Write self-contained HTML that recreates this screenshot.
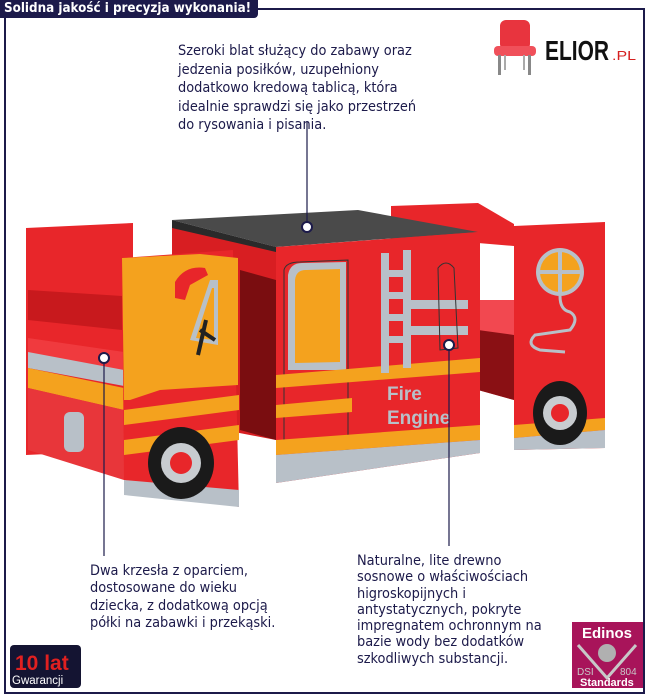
<!DOCTYPE html>
<html><head><meta charset="utf-8"><style>
body{margin:0;width:650px;height:700px;background:#fff;position:relative;overflow:hidden;font-family:"DejaVu Sans Condensed","DejaVu Sans","Liberation Sans",sans-serif;}
.frame{position:absolute;left:4px;top:8px;width:637px;height:682px;border:2px solid #1c1a4a;}
.banner{position:absolute;left:0;top:0;width:258px;height:18px;background:#1c1a4a;color:#fff;font-weight:bold;font-size:13.3px;line-height:18px;padding-left:4px;box-sizing:border-box;border-radius:0 0 4px 0;font-family:"DejaVu Sans Condensed",sans-serif;}
.t{position:absolute;color:#1c1a4a;font-size:14.4px;font-family:"DejaVu Sans Condensed","DejaVu Sans",sans-serif;white-space:nowrap;}
</style></head><body>
<div class="frame"></div>
<div class="banner">Solidna jakość i precyzja wykonania!</div>
<div class="t" style="left:178px;top:42px;line-height:18.5px;">Szeroki blat służący do zabawy oraz<br>jedzenia posiłków, uzupełniony<br>dodatkowo kredową tablicą, która<br>idealnie sprawdzi się jako przestrzeń<br>do rysowania i pisania.</div>
<div class="t" style="left:90px;top:563px;line-height:17.3px;">Dwa krzesła z oparciem,<br>dostosowane do wieku<br>dziecka, z dodatkową opcją<br>półki na zabawki i przekąski.</div>
<div class="t" style="left:357px;top:553px;line-height:16.3px;">Naturalne, lite drewno<br>sosnowe o właściwościach<br>higroskopijnych i<br>antystatycznych, pokryte<br>impregnatem ochronnym na<br>bazie wody bez dodatków<br>szkodliwych substancji.</div>
<svg width="650" height="700" style="position:absolute;left:0;top:0">
<!-- logo -->
<g>
<rect x="500" y="20" width="30" height="30" rx="6" fill="#e8343e"/>
<rect x="494" y="46" width="42" height="10" rx="4" fill="#f0505a"/>
<rect x="498" y="55" width="3" height="20" fill="#888"/><rect x="528" y="55" width="3" height="20" fill="#888"/>
<rect x="504" y="55" width="2" height="15" fill="#aaa"/><rect x="523" y="55" width="2" height="15" fill="#aaa"/>
<text x="545" y="60" font-family="Liberation Sans Narrow,Liberation Sans,sans-serif" font-weight="bold" font-size="28" fill="#111" textLength="64" lengthAdjust="spacingAndGlyphs">ELIOR</text>
<text x="612" y="60" font-family="Liberation Sans,sans-serif" font-size="13" fill="#d62020" textLength="24" lengthAdjust="spacingAndGlyphs">.PL</text>
</g>
<!-- right chair back -->
<polygon points="391,206 478,203 514,224 514,246 478,243 391,246" fill="#e8262a"/>
<polygon points="478,300 514,300 514,400 478,390" fill="#f24850"/>
<polygon points="478,330 514,335 514,400 478,390" fill="#8a1014"/>
<!-- table -->
<polygon points="172,222 276,247 276,440 172,420" fill="#d81e22"/>
<polygon points="240,270 276,280 276,440 240,430" fill="#7a0d10"/>
<polygon points="172,220 358,210 478,232 276,247" fill="#4a4a4a"/>
<polygon points="172,220 276,247 276,252 172,228" fill="#2a2a2a"/>
<polygon points="276,247 480,232 480,453 276,483" fill="#e8262a"/>
<path d="M284,270 Q286,262 300,262 L348,260 L348,450 L284,457 Z" fill="none" stroke="#333" stroke-width="1"/>
<path d="M288,275 Q290,263 302,263 L346,262 L346,370 L288,370 Z" fill="#b8c0c8"/>
<path d="M295,280 Q296,270 306,270 L340,269 L340,362 L295,363 Z" fill="#f4a21e"/>
<polygon points="276,375 480,358 480,372 276,388" fill="#f4a21e"/>
<polygon points="276,405 352,398 352,412 276,418" fill="#f4a21e"/>
<polygon points="276,440 480,425 480,440 276,455" fill="#f4a21e"/>
<polygon points="276,455 480,440 480,453 276,483" fill="#b8c0c8"/>
<g fill="#b8c0c8"><rect x="381" y="253" width="8" height="120"/><rect x="403" y="250" width="8" height="118"/>
<rect x="381" y="270" width="30" height="7"/><rect x="381" y="292" width="30" height="7"/><rect x="381" y="314" width="30" height="7"/><rect x="381" y="336" width="30" height="7"/>
<rect x="410" y="300" width="58" height="9"/><rect x="410" y="326" width="58" height="9"/></g>
<path d="M438,268 Q446,258 454,268 L458,348 L440,350 Z" fill="none" stroke="#333" stroke-width="1"/>
<text x="387" y="400" font-family="Liberation Sans,sans-serif" font-weight="bold" font-size="19" fill="#b8c0c8">Fire</text>
<text x="387" y="424" font-family="Liberation Sans,sans-serif" font-weight="bold" font-size="19" fill="#b8c0c8">Engine</text>
<!-- left chair back/side -->
<polygon points="26,228 133,223 133,450 26,455" fill="#e8262a"/>
<polygon points="28,290 122,296 122,330 28,320" fill="#c8191d"/>
<polygon points="28,338 124,352 124,372 28,355" fill="#f03a3e"/>
<polygon points="28,352 124,370 124,386 28,368" fill="#b8c0c8"/>
<polygon points="28,368 124,388 124,410 28,388" fill="#f4a21e"/>
<polygon points="28,388 124,410 124,480 28,450" fill="#e8363a"/>
<rect x="64" y="412" width="20" height="40" rx="6" fill="#b8c0c8"/>
<!-- left chair front -->
<polygon points="122,258 233,250 239,507 124,480" fill="#e8262a"/>
<polygon points="122,258 200,254 238,258 238,385 160,390 130,400 124,400" fill="#f4a21e"/>
<path d="M175,282 Q185,265 205,268 L208,275 L190,285 L185,300 L175,298 Z" fill="#e8262a"/>
<polygon points="190,340 210,280 218,280 218,345" fill="#b8c0c8"/>
<polygon points="196,338 212,288 214,288 214,340" fill="#f4a21e"/>
<line x1="198" y1="355" x2="206" y2="320" stroke="#222" stroke-width="4"/>
<line x1="200" y1="330" x2="215" y2="340" stroke="#222" stroke-width="4"/>
<polygon points="124,410 239,395 239,410 124,425" fill="#f4a21e"/>
<polygon points="124,440 239,425 239,440 124,455" fill="#f4a21e"/>
<polygon points="124,480 239,490 239,507 124,495" fill="#b8c0c8"/>
<ellipse cx="181" cy="463" rx="33" ry="36" fill="#1a1a1a"/>
<circle cx="181" cy="463" r="20" fill="#c8ccd0"/><circle cx="181" cy="463" r="11" fill="#e8262a"/>
<!-- right chair front -->
<polygon points="514,226 605,222 605,448 514,450" fill="#e8262a"/>
<circle cx="560" cy="272" r="24" fill="#b8c0c8"/><circle cx="560" cy="272" r="20" fill="#f4a21e"/>
<rect x="558" y="252" width="4" height="40" fill="#b8c0c8"/><rect x="540" y="270" width="40" height="4" fill="#b8c0c8"/>
<path d="M560,296 Q560,310 570,312 Q580,318 570,330 L535,335 Q525,345 540,350 L565,352" fill="none" stroke="#b8c0c8" stroke-width="3"/>
<polygon points="514,425 605,418 605,430 514,438" fill="#f4a21e"/>
<polygon points="514,438 605,430 605,448 514,450" fill="#b8c0c8"/>
<ellipse cx="560" cy="413" rx="27" ry="32" fill="#1a1a1a"/>
<circle cx="560" cy="413" r="17" fill="#c8ccd0"/><circle cx="560" cy="413" r="9" fill="#e8262a"/>
<!-- callouts -->
<g stroke="#1c1a4a" stroke-width="1.2"><line x1="307" y1="122" x2="307" y2="227"/><line x1="104" y1="358" x2="104" y2="556"/><line x1="449" y1="345" x2="449" y2="546"/></g>
<g fill="#fff" stroke="#1c1a4a" stroke-width="2"><circle cx="307" cy="227" r="5"/><circle cx="104" cy="358" r="5"/><circle cx="449" cy="345" r="5"/></g>
<!-- badges -->
<rect x="10" y="645" width="71" height="43" rx="4" fill="#141432"/>
<text x="15" y="670" font-family="Liberation Sans,sans-serif" font-weight="bold" font-size="21" fill="#e02020">10 lat</text>
<text x="12" y="684" font-family="Liberation Sans,sans-serif" font-size="11.5" fill="#fff">Gwarancji</text>
<rect x="572" y="622" width="71" height="66" fill="#a8145a"/>
<text x="582" y="638" font-family="Liberation Sans,sans-serif" font-weight="bold" font-size="15" fill="#fff">Edinos</text>
<polyline points="578,645 607,678 636,645" fill="none" stroke="#c8c8c8" stroke-width="3"/>
<circle cx="607" cy="653" r="9" fill="#b0b0b0"/>
<text x="577" y="675" font-family="Liberation Sans,sans-serif" font-size="10" fill="#c8c8c8">DSI</text>
<text x="620" y="675" font-family="Liberation Sans,sans-serif" font-size="10" fill="#c8c8c8">804</text>
<text x="580" y="686" font-family="Liberation Sans,sans-serif" font-weight="bold" font-size="11" fill="#fff">Standards</text>
</svg>
</body></html>
